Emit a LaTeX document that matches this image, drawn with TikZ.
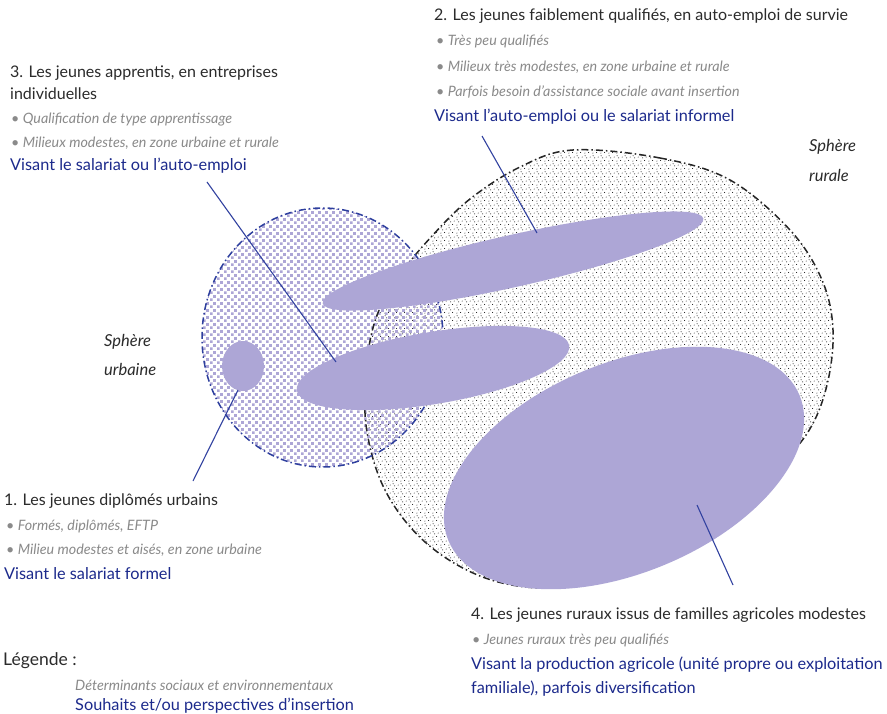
\documentclass[tikz,border=0pt]{standalone}
\usepackage{fontspec}
\setmainfont{Lato}
\usetikzlibrary{shapes.geometric,patterns.meta}
\definecolor{titlec}{HTML}{2B2B2B}
\definecolor{grayc}{HTML}{8A8A8A}
\definecolor{bluec}{HTML}{1C2A8C}
\definecolor{linec}{HTML}{3242A0}
\definecolor{purp}{HTML}{ADA6D6}
\definecolor{urbd}{HTML}{2E3F9E}
\tikzdeclarepattern{name=urbsq, type=uncolored,
  bounding box={(0pt,0pt) and (7pt,7pt)}, tile size={(7pt,7pt)},
  code={\fill (0pt,0pt) rectangle (3.1pt,3.1pt); \fill (3.5pt,3.5pt) rectangle (6.6pt,6.6pt);}}
\tikzdeclarepattern{name=ruraldots, type=uncolored,
  bounding box={(0pt,0pt) and (8pt,8pt)}, tile size={(8pt,8pt)},
  code={\fill (1pt,1pt) circle (0.55pt); \fill (5.2pt,1.8pt) circle (0.55pt);
        \fill (3pt,4.6pt) circle (0.55pt); \fill (7pt,5.6pt) circle (0.55pt);
        \fill (1.2pt,7pt) circle (0.55pt);}}
\tikzset{
  title/.style={anchor=base west, inner sep=0pt, text=titlec, font=\fontsize{16}{19}\selectfont},
  detail/.style={anchor=base west, inner sep=0pt, text=grayc, font=\fontsize{14.3}{17}\selectfont\itshape},
  wish/.style={anchor=base west, inner sep=0pt, text=bluec, font=\fontsize{16.3}{19}\selectfont},
  sphere/.style={anchor=base west, inner sep=0pt, text=titlec, font=\fontsize{16.5}{19}\selectfont\itshape},
  blob/.style={ellipse, fill=purp, draw=none, inner sep=0pt},
  conn/.style={draw=linec, line width=1.1pt},
  ruralline/.style={draw=black!85, line width=1.5pt, dash pattern=on 7pt off 3pt on 1.5pt off 3pt},
  urbanline/.style={draw=urbd, line width=1.5pt, dash pattern=on 7pt off 3pt on 1.5pt off 3pt},
}
\begin{document}
\begin{tikzpicture}[x=1pt,y=-1pt]
\useasboundingbox[fill=white] (0,0) rectangle (887,714);
% rural sphere
\path[pattern=ruraldots, pattern color=black] plot[smooth cycle, tension=0.6] coordinates {(573,150) (660,158) (730,180) (790,230) (822,280) (833,330) (827,385) (808,432) (772,472) (720,512) (660,550) (600,580) (540,588) (480,576) (425,542) (386,492) (367,432) (366,372) (376,318) (400,275) (432,236) (470,199) (520,167)};
% urban sphere
\node[ellipse, minimum width=241pt, minimum height=259pt, inner sep=0pt, pattern=urbsq, pattern color=purp] (urban) at (322.5,337.5) {};
\draw[ruralline] plot[smooth cycle, tension=0.6] coordinates {(573,150) (660,158) (730,180) (790,230) (822,280) (833,330) (827,385) (808,432) (772,472) (720,512) (660,550) (600,580) (540,588) (480,576) (425,542) (386,492) (367,432) (366,372) (376,318) (400,275) (432,236) (470,199) (520,167)};
\draw[urbanline] (urban.center) ellipse [x radius=120.5, y radius=129.5];
% groups
\node[blob, minimum width=390pt, minimum height=52pt, rotate=12.6] (g2) at (513,261) {};
\node[blob, minimum width=276pt, minimum height=72pt, rotate=9.4] (g3) at (433,368) {};
\node[blob, minimum width=380pt, minimum height=210pt, rotate=22.5] (g4) at (624,468) {};
\node[blob, minimum width=42pt, minimum height=50pt] (g1) at (243,366) {};
% connector ends
\coordinate (e3a) at (207,182); \coordinate (e3b) at (336,362);
\coordinate (e2a) at (482,136); \coordinate (e2b) at (537,233);
\coordinate (e1a) at (238,390); \coordinate (e1b) at (193,481);
\coordinate (e4a) at (697,505); \coordinate (e4b) at (733,585);
\draw[conn] (e3a) -- (e3b);
\draw[conn] (e2a) -- (e2b);
\draw[conn] (e1a) -- (e1b);
\draw[conn] (e4a) -- (e4b);
% sphere labels
\node[sphere] (su1) at (104,347) {Sphère};
\node[sphere] (su2) at (104,375) {urbaine};
\node[sphere] (sr1) at (809,152) {Sphère};
\node[sphere] (sr2) at (809,182) {rurale};
% block 2
\node[title] (b2t) at (434,21) {2. Les jeunes faiblement qualifiés, en auto-emploi de survie};
\node[detail] (b2a) at (436,46) {• Très peu qualifiés};
\node[detail] (b2b) at (436,72) {• Milieux très modestes, en zone urbaine et rurale};
\node[detail] (b2c) at (436,97) {• Parfois besoin d’assistance sociale avant insertion};
\node[wish] (b2w) at (434,122) {Visant l’auto-emploi ou le salariat informel};
% block 3
\node[title] (b3t) at (10,78) {3. Les jeunes apprentis, en entreprises};
\node[title] (b3u) at (10,100) {individuelles};
\node[detail] (b3a) at (11,124) {• Qualification de type apprentissage};
\node[detail] (b3b) at (11,148) {• Milieux modestes, en zone urbaine et rurale};
\node[wish] (b3w) at (10,171) {Visant le salariat ou l’auto-emploi};
% block 1
\node[title] (b1t) at (4,505) {1. Les jeunes diplômés urbains};
\node[detail] (b1a) at (6,530) {• Formés, diplômés, EFTP};
\node[detail] (b1b) at (6,554) {• Milieu modestes et aisés, en zone urbaine};
\node[wish] (b1w) at (4,579) {Visant le salariat formel};
% block 4
\node[title] (b4t) at (471,619) {4. Les jeunes ruraux issus de familles agricoles modestes};
\node[detail] (b4a) at (472,644) {• Jeunes ruraux très peu qualifiés};
\node[wish] (b4w) at (471,669) {Visant la production agricole (unité propre ou exploitation};
\node[wish] (b4x) at (471,693) {familiale), parfois diversification};
% legend
\node[title, font=\fontsize{17.5}{20}\selectfont] (lg) at (3,665) {Légende :};
\node[detail] (lg1) at (75,690) {Déterminants sociaux et environnementaux};
\node[wish] (lg2) at (75,710) {Souhaits et/ou perspectives d’insertion};
\end{tikzpicture}
\end{document}
